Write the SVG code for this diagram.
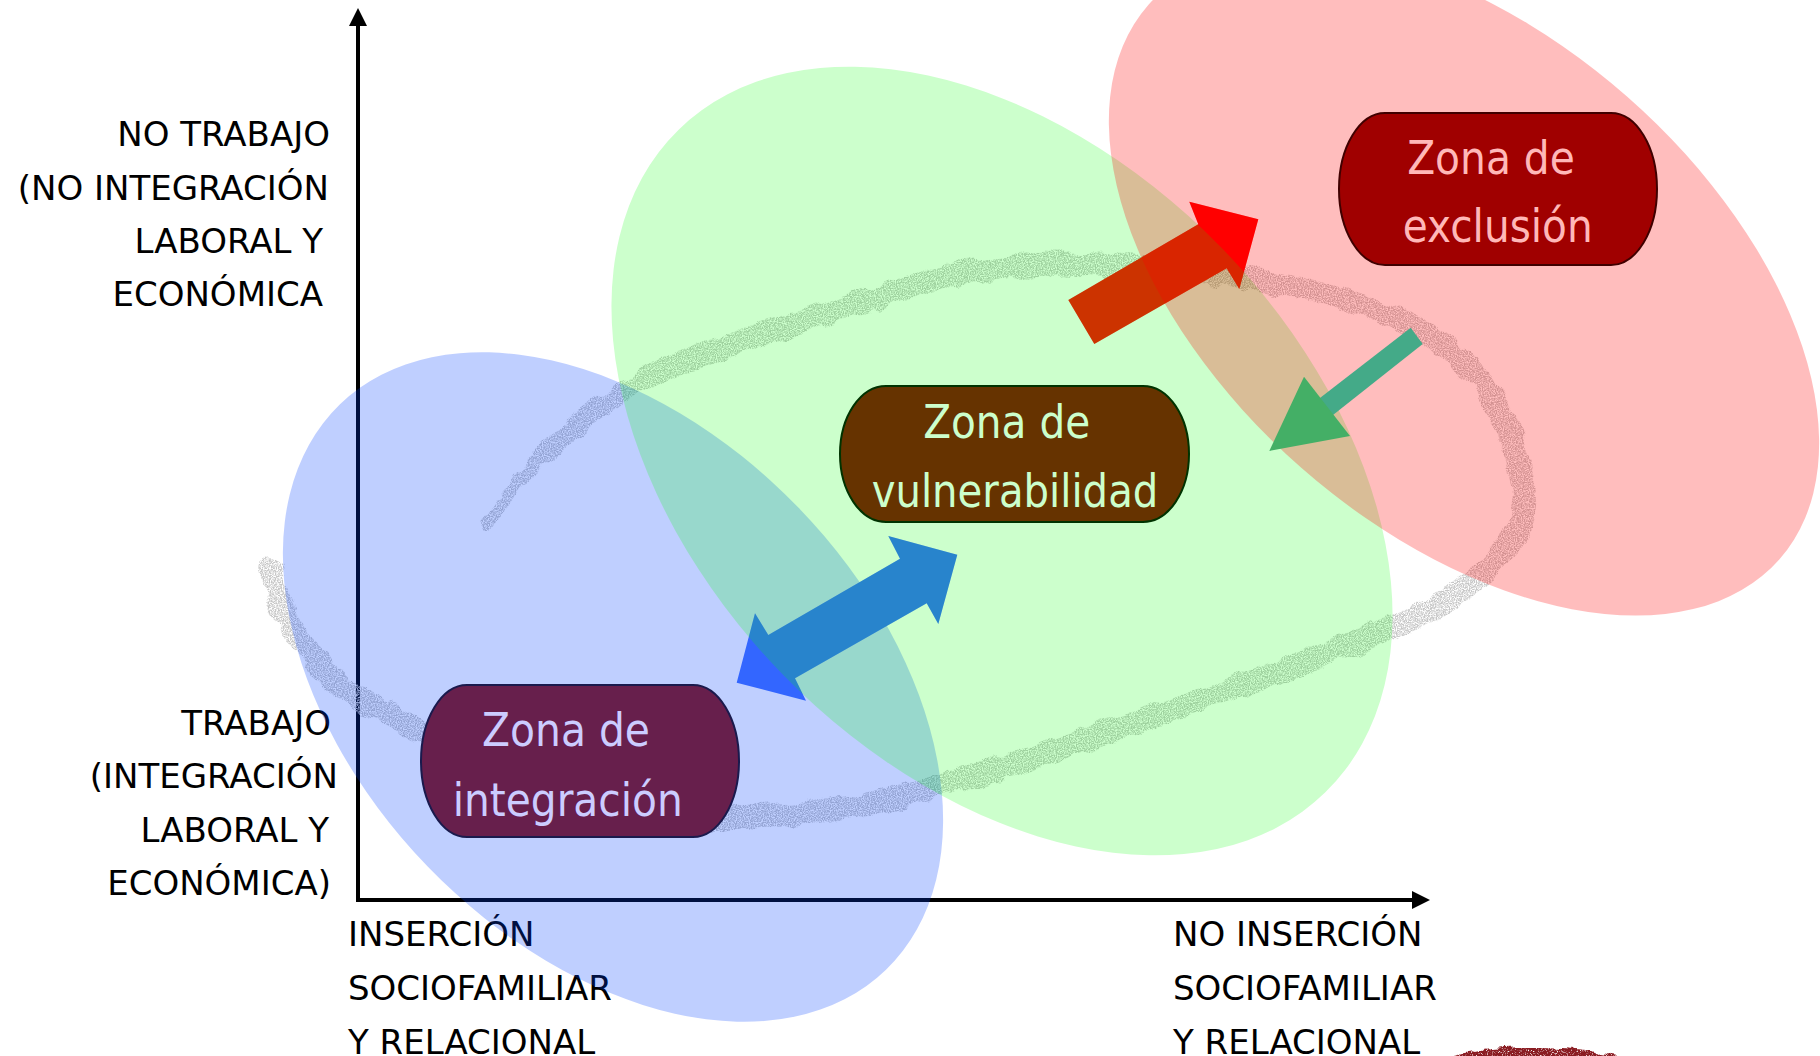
<svg xmlns="http://www.w3.org/2000/svg" xmlns:xlink="http://www.w3.org/1999/xlink" width="1820" height="1056" viewBox="0 0 1820 1056">
<defs>
<style>
.ax{font-family:"DejaVu Sans",Verdana,sans-serif;font-size:34px;fill:#000}
.end{text-anchor:end}
.nt{font-family:"DejaVu Sans",Verdana,sans-serif;font-size:47px;text-anchor:middle}
.axis{stroke:#000;stroke-width:4;fill:none}
.zb{fill:#0040FF;fill-opacity:0.25}
.zg{fill:#00FF00;fill-opacity:0.2}
.zr{fill:#FF0000;fill-opacity:0.26}
.scr{fill:none;stroke:#C6C6C6;stroke-linecap:round}
</style>
<filter id="crayon" x="-10%" y="-10%" width="120%" height="120%">
<feTurbulence type="fractalNoise" baseFrequency="0.045" numOctaves="3" seed="4" result="warp"/>
<feDisplacementMap in="SourceGraphic" in2="warp" scale="14" xChannelSelector="R" yChannelSelector="G" result="rough"/>
<feTurbulence type="fractalNoise" baseFrequency="0.85" numOctaves="2" seed="9" result="grain"/>
<feColorMatrix in="grain" type="matrix" values="0 0 0 0 0  0 0 0 0 0  0 0 0 0 0  0 0 0 -3.2 2.15" result="gmask"/>
<feComposite in="rough" in2="gmask" operator="in" result="tex"/>
<feGaussianBlur in="tex" stdDeviation="0.5"/>
</filter>
<filter id="crayon2" x="-10%" y="-30%" width="120%" height="160%">
<feTurbulence type="fractalNoise" baseFrequency="0.06" numOctaves="2" seed="2" result="warp"/>
<feDisplacementMap in="SourceGraphic" in2="warp" scale="10" xChannelSelector="R" yChannelSelector="G" result="rough"/>
<feTurbulence type="fractalNoise" baseFrequency="0.8" numOctaves="2" seed="5" result="grain"/>
<feColorMatrix in="grain" type="matrix" values="0 0 0 0 0  0 0 0 0 0  0 0 0 0 0  0 0 0 -4 3.2" result="gmask"/>
<feComposite in="rough" in2="gmask" operator="in"/>
</filter>
<ellipse id="zBlueShape" cx="613" cy="687" rx="393" ry="258" transform="rotate(46 613 687)"/>
<ellipse id="zGreenShape" cx="1002" cy="461" rx="463" ry="306" transform="rotate(45.7 1002 461)"/>
<ellipse id="zRedShape" cx="1464" cy="282" rx="420" ry="247" transform="rotate(41.3 1464 282)"/>
<polygon id="blueArrowShape" points="957.3,554.7 938.3,624 926.7,603.3 795,678.3 806,700.7 736.7,682.7 755,613.3 768.3,635 900,558.7 888.3,536"/>
<polygon id="redArrowShape" points="1068.3,300 1198.3,224.3 1189.3,201.7 1258.3,219.3 1239.3,289 1226.7,268.3 1094.3,344"/>
<clipPath id="clipBlueArrow"><use xlink:href="#blueArrowShape"/></clipPath>
<clipPath id="clipRedArrow"><use xlink:href="#redArrowShape"/></clipPath>
</defs>

<rect x="0" y="0" width="1820" height="1056" fill="#FFFFFF"/>

<g id="axes">
<line class="axis" x1="358" y1="24" x2="358" y2="902"/>
<polygon points="358,8 349,26 367,26" fill="#000"/>
<line class="axis" x1="356" y1="900" x2="1414" y2="900"/>
<polygon points="1430,900 1412,891 1412,909" fill="#000"/>
</g>

<g id="axis-labels">
<text class="ax end" x="330" y="146">NO TRABAJO</text>
<text class="ax end" x="329" y="199.5">(NO INTEGRACIÓN</text>
<text class="ax end" x="323" y="252.5">LABORAL Y</text>
<text class="ax end" x="323" y="305.5">ECONÓMICA</text>
<text class="ax end" x="331" y="735">TRABAJO</text>
<text class="ax end" x="338" y="788">(INTEGRACIÓN</text>
<text class="ax end" x="329" y="841.5">LABORAL Y</text>
<text class="ax end" x="331" y="895">ECONÓMICA)</text>
<text class="ax" x="348" y="945.5">INSERCIÓN</text>
<text class="ax" x="348" y="999.5">SOCIOFAMILIAR</text>
<text class="ax" x="348" y="1053.5">Y RELACIONAL</text>
<text class="ax" x="1173" y="945.5">NO INSERCIÓN</text>
<text class="ax" x="1173" y="999.5">SOCIOFAMILIAR</text>
<text class="ax" x="1173" y="1053.5">Y RELACIONAL</text>
</g>

<g id="scribble" filter="url(#crayon)">
<path class="scr" stroke-width="12" d="M487,525 C496.7,513 517.8,477.7 545,453 C572.2,428.3 605.5,399.3 650,377"/>
<path class="scr" stroke-width="18" d="M545,453 C572.2,428.3 605.5,399.3 650,377 C694.5,354.7 755.8,337 812,319"/>
<path class="scr" stroke-width="23" d="M650,377 C694.5,354.7 755.8,337 812,319 C868.2,301 928.8,277.3 987,269 C1045.2,260.7 1103,264.5 1161,269 C1219,273.5 1284.8,280.8 1335,296 C1385.2,311.2 1431.2,332 1462,360 C1492.8,388 1511.2,435 1520,464 C1528.8,493 1526.5,511.7 1515,534 C1503.5,556.3 1481,578.7 1451,598 C1421,617.3 1383.3,630.7 1335,650 C1286.7,669.3 1219,693.7 1161,714 C1103,734.3 1045.2,755.7 987,772 C928.8,788.3 868.2,805.3 812,812 C755.8,818.7 708,819.7 650,812 C592,804.3 520,782 470,756 C420,730 385,716 360,700 C330,680 315,660 300,640 C285,620 276,592 270,568"/>
</g>

<g id="zone-integracion-area">
<use xlink:href="#zBlueShape" class="zb"/>
</g>
<g id="zone-vulnerabilidad-area">
<use xlink:href="#zGreenShape" class="zg"/>
</g>
<g id="zone-exclusion-area">
<use xlink:href="#zRedShape" class="zr"/>
</g>

<g id="blob" filter="url(#crayon2)">
<ellipse cx="1534" cy="1102" rx="150" ry="55" fill="#8A1A20"/>
</g>

<g id="connectors">
<g id="arrow-integracion-vulnerabilidad">
<use xlink:href="#blueArrowShape" fill="#3366FF"/>
<use xlink:href="#zGreenShape" class="zg" clip-path="url(#clipBlueArrow)"/>
</g>
<g id="arrow-vulnerabilidad-exclusion">
<use xlink:href="#redArrowShape" fill="#FF0000"/>
<use xlink:href="#zGreenShape" class="zg" clip-path="url(#clipRedArrow)"/>
<use xlink:href="#zRedShape" class="zr" clip-path="url(#clipRedArrow)"/>
</g>
<g id="arrow-exclusion-vulnerabilidad">
<polygon points="1410.7,327.7 1318,399.5 1333,415 1422.7,344" fill="#44AA88"/>
<polygon points="1304,376.7 1269.3,451 1350,436" fill="#44AF66"/>
</g>
</g>

<g id="node-integracion">
<rect x="421" y="685" width="318" height="152" rx="46" ry="76" fill="#671F4C" stroke="#1A1A4D" stroke-width="2"/>
<text class="nt" x="566" y="746" fill="#CCCCFF" textLength="168" lengthAdjust="spacingAndGlyphs">Zona de</text>
<text class="nt" x="567.7" y="816" fill="#CCCCFF" textLength="230" lengthAdjust="spacingAndGlyphs">integración</text>
</g>

<g id="node-vulnerabilidad">
<rect x="840" y="386" width="349" height="136" rx="46" ry="68" fill="#663300" stroke="#003300" stroke-width="2"/>
<text class="nt" x="1006.7" y="437.7" fill="#CCFFCC" textLength="167" lengthAdjust="spacingAndGlyphs">Zona de</text>
<text class="nt" x="1015" y="506.7" fill="#CCFFCC" textLength="286.7" lengthAdjust="spacingAndGlyphs">vulnerabilidad</text>
</g>

<g id="node-exclusion">
<rect x="1339" y="113" width="318" height="152" rx="46" ry="76" fill="#A00000" stroke="#400000" stroke-width="2"/>
<text class="nt" x="1491" y="174" fill="#FFB8B8" textLength="167.7" lengthAdjust="spacingAndGlyphs">Zona de</text>
<text class="nt" x="1497.7" y="241.7" fill="#FFB8B8" textLength="190" lengthAdjust="spacingAndGlyphs">exclusión</text>
</g>
</svg>
